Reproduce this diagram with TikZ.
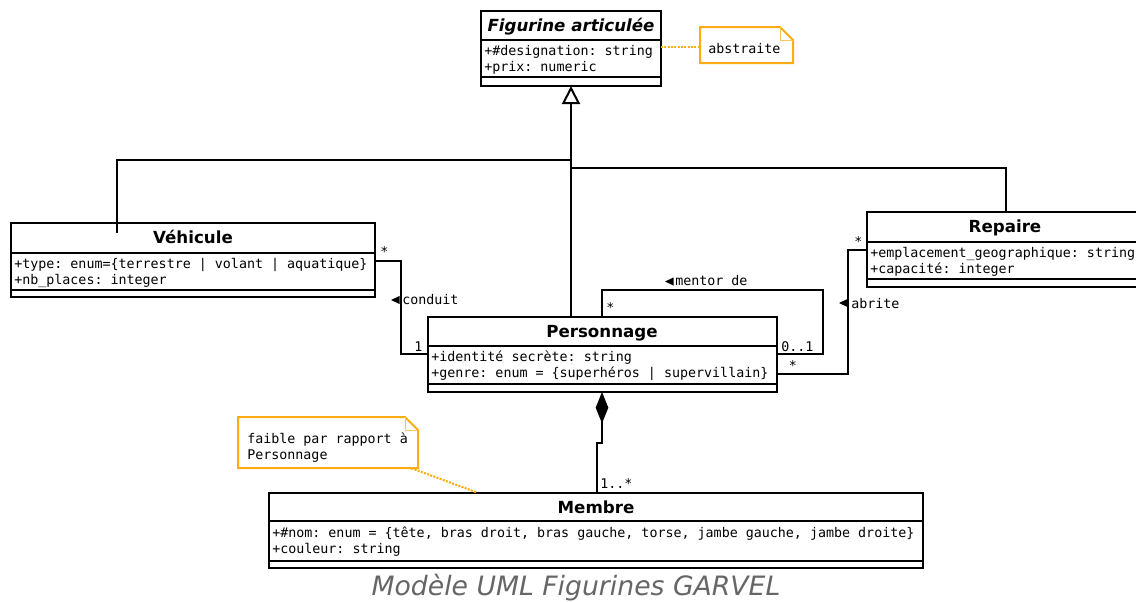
\documentclass[tikz,border=0pt]{standalone}
\usepackage{fontspec}
\setmainfont{DejaVu Sans}
\setmonofont{DejaVu Sans Mono}
\usetikzlibrary{fit,arrows.meta}

\definecolor{noteorange}{RGB}{252,172,20}
\definecolor{captiongray}{RGB}{102,102,102}

\tikzset{
  boxline/.style={line width=1.5pt, draw=black},
  classbox/.style={boxline, fill=white, inner sep=0pt, outer sep=0pt},
  classtitle/.style={font=\fontsize{12.5}{15}\selectfont\bfseries, anchor=base, inner sep=0pt},
  attr/.style={font=\ttfamily\fontsize{10}{12}\selectfont, anchor=base west, inner sep=0pt},
  conn/.style={line width=1.5pt, draw=black, line join=miter},
  notebox/.style={draw=noteorange, line width=1.5pt, fill=white, line join=miter},
  notefold/.style={draw=noteorange!70, line width=0.75pt},
  notelink/.style={draw=noteorange, line width=1.6pt, dash pattern=on 1.5pt off 1pt},
  dirmark/.style={fill=black},
}

% class frame: name, left, right, top, first separator, second separator, bottom
\newcommand\umlclass[7]{%
  \node[classbox, fit={(#2,#4) (#3,#7)}] (#1) {};
  \draw[boxline] (#2,#5) -- (#3,#5) (#2,#6) -- (#3,#6);
}
% note with a folded corner: name, left, top, right, bottom
\newcommand\umlnote[5]{%
  \node[fit={(#2,#3) (#4,#5)}, inner sep=0pt] (#1) {};
  \draw[notebox] (#2,#3) -- (#4-13,#3) -- (#4,#3+13) -- (#4,#5) -- (#2,#5) -- cycle;
  \draw[notefold] (#4-13,#3) |- (#4,#3+13);
}
% small black triangle pointing left, tip at (x,y)
\newcommand\readleft[2]{\fill[dirmark] (#1,#2) -- ++(8.5,-4) -- ++(0,8) -- cycle;}

\begin{document}
\begin{tikzpicture}[x=0.75pt,y=-0.75pt]
\useasboundingbox (0,0) rectangle (1136,601);
\clip (0,0) rectangle (1136,601);

% ---- classes ----
\umlclass{fig}{481}{661}{11}{40}{77}{86}
\node[classtitle] (fig-t) at (571,31) {\itshape Figurine articulée};
\node[attr] (fig-a1) at (484,55.5) {+\#designation: string};
\node[attr] (fig-a2) at (484,71.5) {+prix: numeric};

\umlclass{veh}{11}{375}{223}{253}{290}{297}
\node[classtitle] (veh-t) at (193,243.5) {Véhicule};
\node[attr] (veh-a1) at (14,268.5) {+type: enum=\{terrestre | volant | aquatique\}};
\node[attr] (veh-a2) at (14,284.5) {+nb\_places: integer};

\umlclass{rep}{867}{1143}{212}{242}{279}{287}
\node[classtitle] (rep-t) at (1005,232.5) {Repaire};
\node[attr] (rep-a1) at (870,257.5) {+emplacement\_geographique: string};
\node[attr] (rep-a2) at (870,273.5) {+capacité: integer};

\umlclass{pers}{428}{776.5}{317}{346}{384}{392}
\node[classtitle] (pers-t) at (602,337.5) {Personnage};
\node[attr] (pers-a1) at (431,361.5) {+identité secrète: string};
\node[attr] (pers-a2) at (431,377.5) {+genre: enum = \{superhéros | supervillain\}};

\umlclass{mem}{269}{923}{492.5}{521}{561}{568}
\node[classtitle] (mem-t) at (596,513) {Membre};
\node[attr] (mem-a1) at (272,537) {+\#nom: enum = \{tête, bras droit, bras gauche, torse, jambe gauche, jambe droite\}};
\node[attr] (mem-a2) at (272,553) {+couleur: string};

% ---- generalisation towards Figurine articulée ----
\coordinate (genx) at (571,0);
\coordinate (vehstub) at (117,233);
\coordinate (genL) at (571,160);
\coordinate (genR) at (571,167.5);
\coordinate (repx) at (1005.5,0);
\draw[conn, -{Triangle[open, length=13.5pt, width=13.5pt]}] (pers.north -| genx) -- (fig.south -| genx);
\draw[conn] (vehstub) |- (genL);
\draw[conn] (rep.north -| repx) |- (genR);

% ---- conduit ----
\draw[conn] (veh.east |- 0,261) -- (401,261) -- (401,354) -- (pers.west |- 0,354);
\node[attr] (conduit-m1) at (380,256.5) {*};
\node[attr] (conduit-m2) at (414,351.5) {1};
\readleft{391}{300}
\node[attr] (conduit-l) at (402,304) {conduit};

% ---- mentor de ----
\draw[conn] (pers.north -| 602,0) -- (602,289.5) -- (822.5,289.5) -- (822.5,354) -- (pers.east |- 0,354);
\node[attr] (mentor-m1) at (606,312) {*};
\node[attr] (mentor-m2) at (781,351.5) {0..1};
\readleft{665}{281.5}
\node[attr] (mentor-l) at (675,285.5) {mentor de};

% ---- abrite ----
\draw[conn] (pers.east |- 0,373.5) -- (848,373.5) -- (848,249.5) -- (rep.west |- 0,249.5);
\node[attr] (abrite-m1) at (788.5,370) {*};
\node[attr] (abrite-m2) at (854,246) {*};
\readleft{839}{303}
\node[attr] (abrite-l) at (851,308) {abrite};

% ---- composition Personnage <>-- Membre ----
\draw[conn, {Diamond[length=23.5pt, width=9.5pt]}-] (pers.south -| 602,0) -- (602,443) -- (596.5,443) -- (mem.north -| 596.5,0);
\node[attr] (comp-m) at (600,488.5) {1..*};

% ---- notes ----
\umlnote{absnote}{700}{27}{793}{63}
\node[attr] (absnote-t) at (708,53) {abstraite};
\draw[notelink] (fig.east |- 0,47) -- (absnote.west |- 0,47);

\umlnote{weaknote}{238}{417}{418}{468}
\node[attr] (weaknote-t1) at (247,443) {faible par rapport à};
\node[attr] (weaknote-t2) at (247,459) {Personnage};
\draw[notelink] (weaknote.south -| 411.5,0) -- (mem.north -| 477,0);

% ---- caption ----
\node[font=\fontsize{20}{24}\selectfont\itshape, text=captiongray, anchor=base, inner sep=0pt] (caption) at (576,595) {Modèle UML Figurines GARVEL};
\end{tikzpicture}
\end{document}
